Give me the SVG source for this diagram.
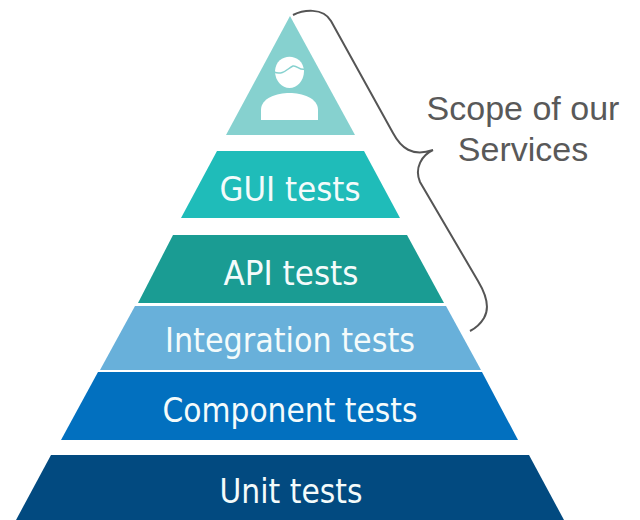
<svg xmlns="http://www.w3.org/2000/svg" width="640" height="520" viewBox="0 0 640 520">
<style>
.l{font-family:"DejaVu Sans","Liberation Sans",sans-serif;fill:#f4fbfb;text-anchor:middle;font-size:33px}
.s{font-family:"Liberation Sans",Arial,sans-serif;fill:#595959;text-anchor:middle;font-size:34px}
</style>
<rect width="640" height="520" fill="#fff"/>
<g id="top"><polygon points="290,16 355,135 226,135" fill="#86d1cf"/>
<path d="M275 71C276 52 303 52 304 71C304 81 297 88 289.500 88C282 88 275 81 275 71Z" fill="#fff"/>
<path d="M274 72C283 76 288 68 293 66C297 65 300 71 305 69" fill="none" stroke="#86d1cf" stroke-width="1.500"/>
<path d="M261 120V110C261 98 277 93 289.500 93C302 93 318 98 318 110V120Z" fill="#fff"/></g>
<g id="gui"><polygon points="217,151 364,151 400,218 181,218" fill="#1fbcb9"/><text class="l" x="290" y="201" textLength="141" lengthAdjust="spacingAndGlyphs">GUI tests</text></g>
<g id="api"><polygon points="173,235 407,235 444,303 138,303" fill="#1a9c93"/><text class="l" x="291" y="285" textLength="135" lengthAdjust="spacingAndGlyphs">API tests</text></g>
<g id="integration"><polygon points="135,306 446,306 481,370 100,370" fill="#68b0da"/><text class="l" x="290" y="352" textLength="250" lengthAdjust="spacingAndGlyphs">Integration tests</text></g>
<g id="component"><polygon points="98,372 482,372 518,440 61,440" fill="#0270bf"/><text class="l" x="290" y="422" textLength="255" lengthAdjust="spacingAndGlyphs">Component tests</text></g>
<g id="unit"><polygon points="51,455 529,455 564,520 16,520" fill="#024a80"/><text class="l" x="291" y="503" textLength="143" lengthAdjust="spacingAndGlyphs">Unit tests</text></g>
<g id="connectors"><path d="M293 15C303 10 323 7 331 21L393 133C401 148 412 157 433 150C422 155 414 168 420 182L478 281C487 296 490 308 484 318C481 323 476 328 470 331" fill="none" stroke="#555" stroke-width="2"/></g>
<g id="label"><text class="s" x="523" y="120">Scope of our</text><text class="s" x="523" y="161">Services</text></g>
</svg>
